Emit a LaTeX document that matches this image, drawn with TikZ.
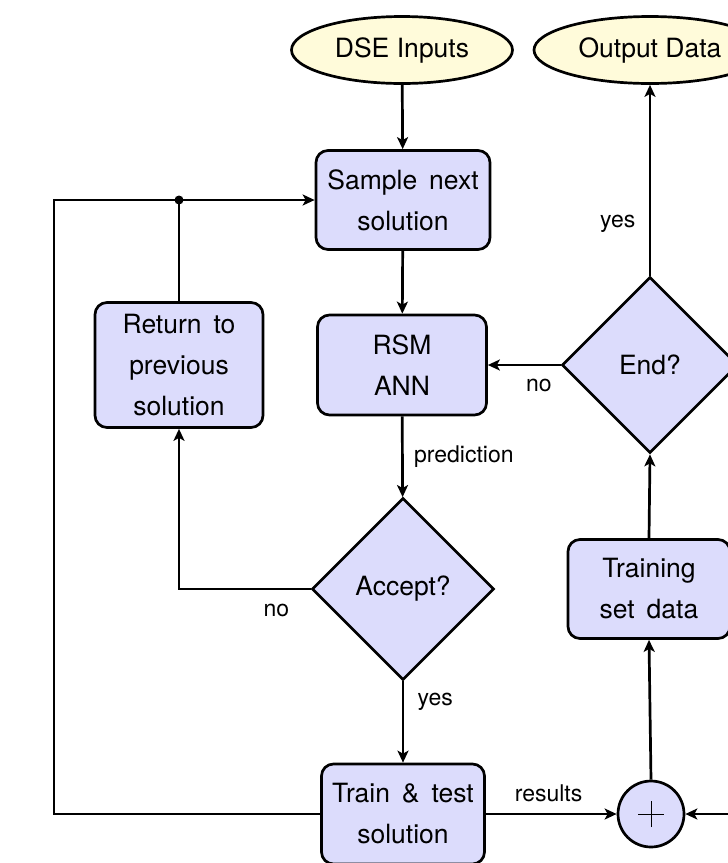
\documentclass[tikz,border=0pt]{standalone}
\usepackage{fontspec}
\setmainfont{TeX Gyre Heros}
\usetikzlibrary{shapes.geometric,arrows.meta}
\definecolor{boxfill}{RGB}{220,220,252}
\definecolor{ellfill}{RGB}{255,251,218}
\newcommand{\wsp}{\hspace{0.45em}}
\begin{document}
\begin{tikzpicture}[x=1pt,y=-1pt,
  line width=2.7pt,
  >={Stealth[length=12pt,width=11pt,inset=3pt]},
  every node/.style={font=\fontsize{26.5}{41}\selectfont},
  procbox/.style={draw,fill=boxfill,rounded corners=12pt,align=center,inner sep=0pt},
  decbox/.style={draw,fill=boxfill,diamond,inner sep=0pt,aspect=1},
  iobox/.style={draw,fill=ellfill,ellipse,inner sep=0pt},
  lbl/.style={font=\fontsize{23}{26}\selectfont}
]
\useasboundingbox (0,0) rectangle (728,863);
\clip (0,0) rectangle (728,863);

\node[iobox,minimum width=221pt,minimum height=67pt] (dse) at (402,50) {DSE Inputs};
\node[iobox,minimum width=232pt,minimum height=67pt] (out) at (650,50) {Output Data};
\node[procbox,minimum width=174pt,minimum height=99pt] (sample) at (403,200) {Sample\wsp next\\solution};
\node[procbox,minimum width=169pt,minimum height=100pt] (rsm) at (402,365) {RSM\\ANN};
\node[procbox,minimum width=168pt,minimum height=125pt] (ret) at (179,365) {Return\wsp to\\previous\\solution};
\node[decbox,minimum width=182pt,minimum height=182pt] (acc) at (403,589) {Accept?};
\node[decbox,minimum width=176pt,minimum height=176pt] (end) at (650,365) {End?};
\node[procbox,minimum width=162pt,minimum height=99pt] (train) at (649,589) {Training\\set\wsp data};
\node[procbox,minimum width=163pt,minimum height=100pt] (tt) at (403,814) {Train\wsp\&\wsp test\\solution};
\node[draw,fill=boxfill,circle,minimum size=66pt,inner sep=0pt] (sum) at (651,814) {};
\draw[line width=0.9pt] ([xshift=-13pt]sum.center) -- ([xshift=13pt]sum.center)
  ([yshift=-13pt]sum.center) -- ([yshift=13pt]sum.center);

\coordinate (lc) at (54,814);
\coordinate (ltop) at (54,200);
\coordinate (dot) at (179,200);
\coordinate (rin) at (745,814);
\coordinate (accl) at (179,589);

\draw[->] (dse) -- (sample);
\draw[->] (sample) -- (rsm);
\draw[->] (rsm) -- node[lbl,right=7pt] {prediction} (acc);
\draw[->] (acc) -- node[lbl,right=10pt,pos=0.25] {yes} (tt);
\draw[->] (acc.west) -- node[lbl,below=10pt,pos=0.26] {no} (accl) -- (ret.south);
\draw (ret.north) -- (dot);
\fill (dot) circle (4.5pt);
\draw[->] (tt.west) -- (lc) -- (ltop) -- (sample.west);
\draw[->] (tt.east) -- node[lbl,above=7pt,pos=0.48] {results} (sum.west);
\draw[->] (rin) -- (sum.east);
\draw[->] (sum.north) -- (train.south);
\draw[->] (train.north) -- (end.south);
\draw[->] (end.west) -- node[lbl,below=9pt,pos=0.3] {no} (rsm.east);
\draw[->] (end.north) -- node[lbl,left=10pt,pos=0.27] {yes} (out.south);
\end{tikzpicture}
\end{document}
